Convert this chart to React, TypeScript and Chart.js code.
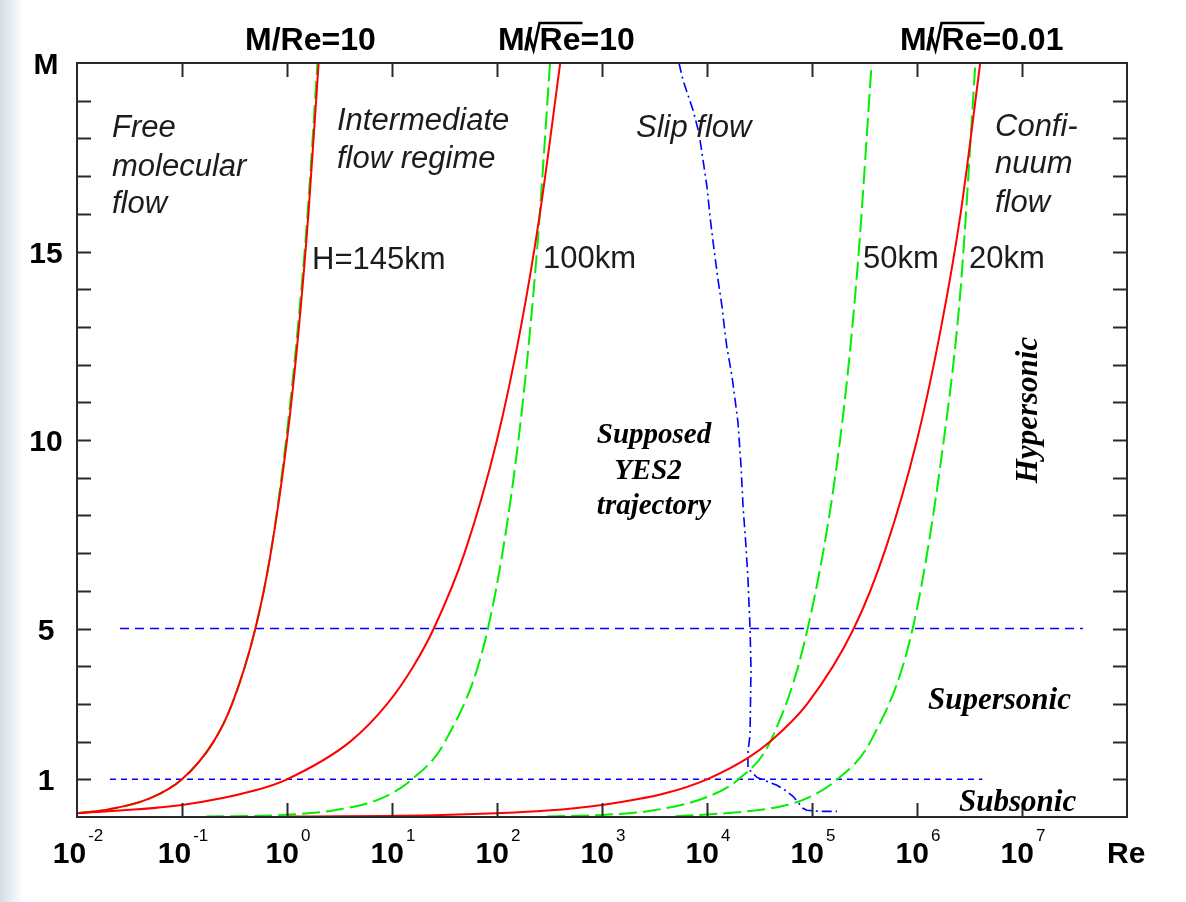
import React, { useEffect, useRef } from "react";
import { Chart, registerables } from "chart.js";

Chart.register(...registerables);

// ---- data (Re, M) ----
const reMRe10 = [0.01, 0.02, 0.05, 0.1, 0.2, 0.3, 0.5, 0.7, 1, 1.3, 1.6, 2];
const mMRe10 = [0.1, 0.2, 0.5, 1, 2, 3, 5, 7, 10, 13, 16, 20];

const reMsqrt10 = [0.01, 0.1, 0.5, 1, 4, 9, 16, 25, 49, 100, 169, 256, 400];
const mMsqrt10 = [0.1, 0.32, 0.71, 1, 2, 3, 4, 5, 7, 10, 13, 16, 20];

const reMsqrt001 = [1, 30, 300, 1000, 4000, 1e4, 2.5e4, 4e4, 9e4, 2.5e5, 5e5, 1e6, 1.7e6, 2.6e6, 4e6];
const mMsqrt001 = [0.01, 0.05, 0.17, 0.32, 0.63, 1, 1.58, 2, 3, 5, 7.1, 10, 13, 16, 20];

const reH145 = [0.01, 0.02, 0.05, 0.1, 0.2, 0.3, 0.5, 0.7, 0.98, 1.27, 1.57, 1.95];
const mH145 = [0.1, 0.2, 0.5, 1, 2, 3, 5, 7, 10, 13, 16, 20];

const reH100 = [0.17, 1, 3, 8, 15.5, 32, 82, 160, 240, 320];
const mH100 = [0.011, 0.06, 0.19, 0.5, 1, 2, 5, 10, 15, 20];

const reH50 = [300, 1000, 3000, 1e4, 2e4, 4e4, 9.1e4, 1.85e5, 2.7e5, 3.7e5];
const mH50 = [0.015, 0.055, 0.17, 0.53, 1, 2, 5, 10, 14.5, 20];

const reH20 = [5000, 1.5e4, 3e4, 5e4, 9e4, 1.75e5, 3.6e5, 9.1e5, 1.8e6, 2.6e6, 3.6e6];
const mH20 = [0.02, 0.1, 0.18, 0.28, 0.5, 1, 2, 5, 10, 14, 20];

const reTraj = [5408, 5902, 7362, 8395, 9162, 10000, 10690, 11670, 12740, 13900, 14830, 15490, 17300, 18490, 19720, 21090, 22030, 23500, 24550, 25700, 26240, 25700, 24550, 24550, 29920, 46450, 55340, 65920, 82040, 89540, 119100, 173000];
const mTraj = [20, 19.55, 18.75, 18.14, 17.43, 16.71, 15.92, 15.05, 14.25, 13.54, 12.85, 12.45, 11.69, 11.08, 10.47, 9.31, 8.25, 7.19, 6.32, 5.0, 3.94, 2.17, 1.74, 1.29, 1.05, 0.84, 0.71, 0.55, 0.23, 0.18, 0.15, 0.15];

const reMach5 = [0.0257, 3.8e7];
const mMach5 = [5, 5];
const reMach1 = [0.0206, 4.2e6];
const mMach1 = [1, 1];

const xTickExponents = [-2, -1, 0, 1, 2, 3, 4, 5, 6, 7];
const yTickValues = [1, 2, 3, 4, 5, 6, 7, 8, 9, 10, 11, 12, 13, 14, 15, 16, 17, 18, 19];
const yTickLabels = [1, 5, 10, 15];

const SANS = '"Liberation Sans", Arial, sans-serif';
const SERIF = '"Liberation Serif", "Times New Roman", serif';

function pts(xs: number[], ys: number[]) {
  return xs.map((x, i) => ({ x, y: ys[i] }));
}

function drawSqrtLabel(ctx: CanvasRenderingContext2D, x: number, y: number, tail: string) {
  ctx.font = `bold 32px ${SANS}`;
  ctx.textAlign = "left";
  let cx = x;
  ctx.fillText("M", cx, y);
  cx += ctx.measureText("M").width - 1;
  ctx.fillText("/", cx, y);
  cx += ctx.measureText("/").width - 6;
  const rw = ctx.measureText("Re").width;
  ctx.save();
  ctx.lineWidth = 2.6;
  ctx.strokeStyle = "#000";
  ctx.beginPath();
  ctx.moveTo(cx, y - 11);
  ctx.lineTo(cx + 3, y - 13);
  ctx.lineTo(cx + 7, y);
  ctx.lineTo(cx + 13, y - 27);
  ctx.lineTo(cx + 13 + rw + 2, y - 27);
  ctx.stroke();
  ctx.restore();
  cx += 13;
  ctx.fillText("Re", cx, y);
  cx += rw;
  ctx.fillText("=" + tail, cx, y);
}

const overlayPlugin = {
  id: "overlay",
  afterDraw(chart: any) {
    const ctx: CanvasRenderingContext2D = chart.ctx;
    const { left, right, top, bottom } = chart.chartArea;
    const xs = chart.scales.x;
    const ys = chart.scales.y;
    ctx.save();
    // frame
    ctx.strokeStyle = "#2a2a2a";
    ctx.lineWidth = 2;
    ctx.strokeRect(left, top, right - left, bottom - top);
    // ticks
    ctx.lineWidth = 2;
    ctx.beginPath();
    for (const e of xTickExponents) {
      const px = Math.round(xs.getPixelForValue(Math.pow(10, e))) + 0.5;
      if (e > -2) {
        ctx.moveTo(px, bottom);
        ctx.lineTo(px, bottom - 14);
        ctx.moveTo(px, top);
        ctx.lineTo(px, top + 14);
      }
    }
    for (const v of yTickValues) {
      const py = Math.round(ys.getPixelForValue(v)) + 0.5;
      ctx.moveTo(left, py);
      ctx.lineTo(left + 14, py);
      ctx.moveTo(right, py);
      ctx.lineTo(right - 14, py);
    }
    ctx.stroke();

    ctx.fillStyle = "#000";
    // y tick labels
    ctx.font = `bold 30px ${SANS}`;
    ctx.textAlign = "center";
    ctx.textBaseline = "alphabetic";
    for (const v of yTickLabels) {
      const py = ys.getPixelForValue(v);
      ctx.fillText(String(v), left - 31, py + 11);
    }
    ctx.fillText("M", left - 31, ys.getPixelForValue(20) + 11);

    // x tick labels 10^e
    for (const e of xTickExponents) {
      const px = xs.getPixelForValue(Math.pow(10, e));
      ctx.font = `bold 30px ${SANS}`;
      const wBase = ctx.measureText("10").width;
      ctx.font = `17px ${SANS}`;
      const sup = String(e);
      const wSup = ctx.measureText(sup).width;
      const start = px - (wBase + 2 + wSup) / 2 + 1;
      ctx.textAlign = "left";
      ctx.font = `bold 30px ${SANS}`;
      ctx.fillText("10", start, bottom + 46);
      ctx.font = `17px ${SANS}`;
      ctx.fillText(sup, start + wBase + 2, bottom + 24);
    }
    ctx.font = `bold 30px ${SANS}`;
    ctx.textAlign = "left";
    ctx.fillText("Re", 1107, bottom + 46);

    // top labels
    ctx.font = `bold 32px ${SANS}`;
    ctx.fillText("M/Re=10", 245, 50);
    drawSqrtLabel(ctx, 498, 50, "10");
    drawSqrtLabel(ctx, 900, 50, "0.01");

    // regime labels
    ctx.fillStyle = "#1c1c1c";
    ctx.font = `italic 31px ${SANS}`;
    ctx.textAlign = "left";
    ctx.fillText("Free", 112, 137);
    ctx.fillText("molecular", 112, 176);
    ctx.fillText("flow", 112, 213);
    ctx.fillText("Intermediate", 337, 130);
    ctx.fillText("flow regime", 337, 168);
    ctx.fillText("Slip flow", 636, 137);
    ctx.fillText("Confi-", 995, 136);
    ctx.fillText("nuum", 995, 173);
    ctx.fillText("flow", 995, 212);

    // altitude labels
    ctx.font = `31px ${SANS}`;
    ctx.fillText("H=145km", 312, 269);
    ctx.fillText("100km", 543, 268);
    ctx.fillText("50km", 863, 268);
    ctx.fillText("20km", 969, 268);

    // serif labels
    ctx.fillStyle = "#000";
    ctx.font = `italic bold 29px ${SERIF}`;
    ctx.textAlign = "center";
    ctx.fillText("Supposed", 654, 443);
    ctx.fillText("YES2", 648, 479);
    ctx.fillText("trajectory", 654, 514);
    ctx.font = `italic bold 31px ${SERIF}`;
    ctx.textAlign = "left";
    ctx.fillText("Supersonic", 928, 709);
    ctx.fillText("Subsonic", 959, 811);
    ctx.save();
    ctx.translate(1037, 410);
    ctx.rotate(-Math.PI / 2);
    ctx.textAlign = "center";
    ctx.fillText("Hypersonic", 0, 0);
    ctx.restore();

    ctx.restore();
  },
};

export default function App() {
  const ref = useRef<HTMLCanvasElement>(null);
  useEffect(() => {
    const canvas = ref.current;
    if (!canvas) return;
    const red = { borderColor: "#ff0000", borderWidth: 2, cubicInterpolationMode: "monotone", order: 1 };
    const green = { borderColor: "#00f000", borderWidth: 2, borderDash: [18, 6], cubicInterpolationMode: "monotone", order: 2 };
    const chart = new Chart(canvas, {
      type: "line",
      data: {
        datasets: [
          { label: "M/Re=10", data: pts(reMRe10, mMRe10), ...red },
          { label: "M/sqrt(Re)=10", data: pts(reMsqrt10, mMsqrt10), ...red },
          { label: "M/sqrt(Re)=0.01", data: pts(reMsqrt001, mMsqrt001), ...red },
          { label: "H=145km", data: pts(reH145, mH145), ...green },
          { label: "100km", data: pts(reH100, mH100), ...green },
          { label: "50km", data: pts(reH50, mH50), ...green },
          { label: "20km", data: pts(reH20, mH20), ...green },
          {
            label: "YES2 trajectory",
            data: pts(reTraj, mTraj),
            borderColor: "#0000ff",
            borderWidth: 1.6,
            borderDash: [10, 4, 2, 4],
            tension: 0,
            order: 3,
          },
          { label: "M=5", data: pts(reMach5, mMach5), borderColor: "#0000ff", borderWidth: 1.6, borderDash: [9, 6], order: 4 },
          { label: "M=1", data: pts(reMach1, mMach1), borderColor: "#0000ff", borderWidth: 1.6, borderDash: [6, 5], order: 4 },
        ] as any,
      },
      options: {
        responsive: false,
        animation: false,
        devicePixelRatio: 1,
        layout: { padding: { left: 77, top: 63, right: 59, bottom: 85 } },
        elements: { point: { radius: 0, hoverRadius: 0 }, line: { fill: false } },
        plugins: { legend: { display: false }, tooltip: { enabled: false } },
        events: [],
        scales: {
          x: { type: "logarithmic", min: 0.01, max: 1e8, display: false },
          y: { type: "linear", min: 0, max: 20, display: false },
        },
      } as any,
      plugins: [overlayPlugin],
    });
    return () => chart.destroy();
  }, []);
  return (
    <div
      style={{
        position: "absolute",
        left: 0,
        top: 0,
        width: 1186,
        height: 902,
        background:
          "linear-gradient(to right, #d3dce4 0px, #e6ecf1 10px, #ffffff 24px)",
      }}
    >
      <canvas ref={ref} width={1186} height={902} style={{ display: "block" }} />
    </div>
  );
}
